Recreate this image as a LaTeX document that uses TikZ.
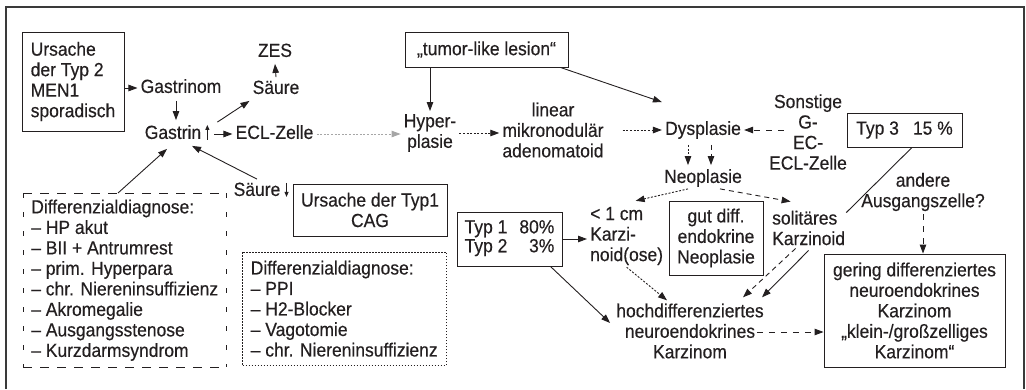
\documentclass[tikz,border=0pt]{standalone}
\usepackage{fontspec}
\setmainfont{Liberation Sans}[FakeStretch=0.92,FakeBold=0.4]
\usetikzlibrary{arrows.meta,calc}
\definecolor{ink}{HTML}{231F20}
\definecolor{frameink}{HTML}{3A3A3A}
\begin{document}
\begin{tikzpicture}[x=1pt,y=-1pt,
  font=\fontsize{19pt}{20.5pt}\selectfont, text=ink,
  every node/.style={inner sep=3pt},
  lbl/.style={text height=13.6pt,text depth=3.8pt},
  txt/.style={align=center},
  rbox/.style={draw=ink,line width=0.9pt,align=center},
  conn/.style={draw=ink,line width=0.9pt,-{Triangle[length=9pt,width=6.5pt]}},
  connd/.style={conn,dash pattern=on 5pt off 4pt},
  conndot/.style={conn,dash pattern=on 2pt off 1.6pt},
  connlong/.style={conn,dash pattern=on 6pt off 6pt},
  glyph/.style={draw=ink,line width=0.9pt,-{Triangle[length=5pt,width=4pt]}},
  ddlong/.style={draw=ink,line width=0.9pt,dash pattern=on 9pt off 8pt},
  ddshort/.style={draw=ink,line width=0.9pt,dash pattern=on 5pt off 14pt},
]
\useasboundingbox (0,0) rectangle (1026,389);
% open outer frame
\draw[frameink,line width=1.6pt] (6,389) -- (6,7) -- (1024,7) -- (1024,389);

% --- left part: gastrin loop
\node[rbox,align=left,minimum width=102pt,minimum height=99pt] (men) at (73,81.5)
  {Ursache\\der Typ 2\\MEN1\\sporadisch};
\node[lbl] (gastrinom) at (181,88) {Gastrinom};
\node[lbl] (gastrin) at (173,134) {Gastrin};
\node[lbl] (ecl) at (274.5,134) {ECL-Zelle};
\node[lbl] (saeureA) at (276,89) {Säure};
\node[lbl] (zes) at (275,52) {ZES};
\node[lbl] (saeureB) at (257,191) {Säure};
\node[rbox,minimum width=154pt,minimum height=52pt] (cag) at (370,210)
  {Ursache der Typ1\\CAG};

\node[align=left,inner sep=0pt,minimum width=203pt,minimum height=174pt,anchor=north west] (ddA) at (23,193)
  {Differenzialdiagnose:\\– HP akut\\– BII + Antrumrest\\– prim. Hyperpara\\– chr. Niereninsuffizienz\\– Akromegalie\\– Ausgangsstenose\\– Kurzdarmsyndrom};
\draw[ddlong] (ddA.north west) -- (ddA.north east);
\draw[ddlong] (ddA.south west) -- (ddA.south east);
\draw[ddshort] (ddA.north west) -- (ddA.south west);
\draw[ddshort] (ddA.north east) -- (ddA.south east);

\node[align=left,inner sep=0pt,minimum width=204pt,minimum height=113pt,anchor=north west] (ddB) at (242,252)
  {Differenzialdiagnose:\\– PPI\\– H2-Blocker\\– Vagotomie\\– chr. Niereninsuffizienz};
\draw[ink,line width=0.9pt,dash pattern=on 1.5pt off 1.5pt] (ddB.north west) rectangle (ddB.south east);

% rise / fall marks
\draw[glyph] ($(gastrin.base east)+(3,1)$) -- ++(0,-15);
\draw[glyph] ($(saeureB.base east)+(3,-13)$) -- ++(0,14);

% --- middle part: lesion sequence
\node[rbox,minimum width=163pt,minimum height=35pt] (tumor) at (486.5,49.5) {„tumor-like lesion“};
\node[txt] (hyper) at (430,133) {Hyper-\\plasie};
\node[txt] (linear) at (553,130) {linear\\mikronodulär\\adenomatoid};
\node[lbl] (dysp) at (703,130) {Dysplasie};
\node[txt] (sonst) at (808,132) {Sonstige\\G-\\EC-\\ECL-Zelle};
\node[rbox,minimum width=115pt,minimum height=34pt] (typ3) at (904.5,130) {Typ 3\hspace{14pt}15 \%};
\node[lbl] (neo) at (703,178) {Neoplasie};
\node[align=left,anchor=west] (karzi) at (587,236) {< 1 cm\\Karzi-\\noid(ose)};
\node[rbox,minimum width=105pt,minimum height=54pt] (typ12) at (509.5,239)
  {\renewcommand{\arraystretch}{0.92}\begin{tabular}{@{}l@{\hspace{12pt}}r@{}}Typ 1&80\%\\Typ 2&3\%\end{tabular}};
\node[rbox,minimum width=94pt,minimum height=74pt] (gut) at (716,238)
  {\fontsize{19pt}{19pt}\selectfont gut diff.\\endokrine\\Neoplasie};
\node[align=left,anchor=west] (solit) at (769,228) {solitäres\\Karzinoid};
\node[txt] (andere) at (923,192) {andere\\Ausgangszelle?};
\node[rbox,minimum width=181pt,minimum height=113pt] (gering) at (914.5,310.5)
  {gering differenziertes\\neuroendokrines\\Karzinom\\„klein-/großzelliges\\Karzinom“};
\node[txt] (hoch) at (690,331) {hochdifferenziertes\\neuroendokrines\\Karzinom};

% --- connectors
\draw[conn] (men.east |- gastrinom.west) -- (gastrinom.west);
\draw[conn] ($(gastrinom.south)+(-5,1)$) -- ($(gastrin.north)+(3,-2)$);
\draw[conn] ($(gastrin.north east)+(13,0)$) -- (saeureA.south west);
\draw[conn] (saeureA.north) -- (zes.south);
\draw[conn] ($(gastrin.east)+(10,0)$) -- (ecl.west);
\draw[conn] ($(ddA.north west)+(95,0)$) -- ($(gastrin.south)+(-6,3)$);
\draw[conn] (saeureB.north) -- ($(gastrin.south)+(19,0)$);

\draw[conn,draw=gray!70,dash pattern=on 2pt off 1.6pt] (ecl.east) -- (hyper.west |- ecl.east);
\draw[conn] (tumor.south -| hyper) -- (hyper.north);
\draw[conn] ($(tumor.south east)+(-8,0)$) -- ($(dysp.north west)+(0,-16)$);
\draw[conndot] (hyper.east) -- (linear.west |- hyper.east);
\draw[conndot] ($(linear.east |- dysp.west)+(16,0)$) -- (dysp.west);
\draw[connlong] ($(sonst.west |- dysp.east)+(18,0)$) -- (dysp.east);

\draw[conndot] ($(dysp.south)+(-15,3)$) -- ($(neo.north)+(-15,-1)$);
\draw[connd] ($(dysp.south)+(8,3)$) -- ($(neo.north)+(8,-1)$);
\draw[conndot] ($(neo.south)+(-15,-1)$) -- ($(karzi.north)+(9,-3)$);
\draw[connd] ($(neo.south)+(17,-1)$) -- ($(solit.north)+(-18,-6)$);

\draw[conn] (typ12.east) -- (karzi.west |- typ12.east);
\draw[conn] ($(typ12.south east)+(-12,0)$) -- ($(hoch.west)+(-3,-8)$);
\draw[conndot] ($(karzi.south)+(0,-1)$) -- ($(hoch.north)+(-23,0)$);
\draw[connd] ($(solit.south)+(-13,0)$) -- ($(hoch.north)+(53,-3)$);
\draw[conn] ($(solit.south)+(0,2)$) -- ($(hoch.north)+(72,-3)$);

\draw[ink,line width=0.9pt] ($(typ3.south)+(7.5,0)$) -- ($(solit.north east)+(-2,5)$);
\draw[connlong] (andere.south) -- (andere.south |- gering.north);
\draw[connlong] ($(hoch.east)+(-10,1)$) coordinate (hq) -- (hq -| gering.west);
\end{tikzpicture}
\end{document}
